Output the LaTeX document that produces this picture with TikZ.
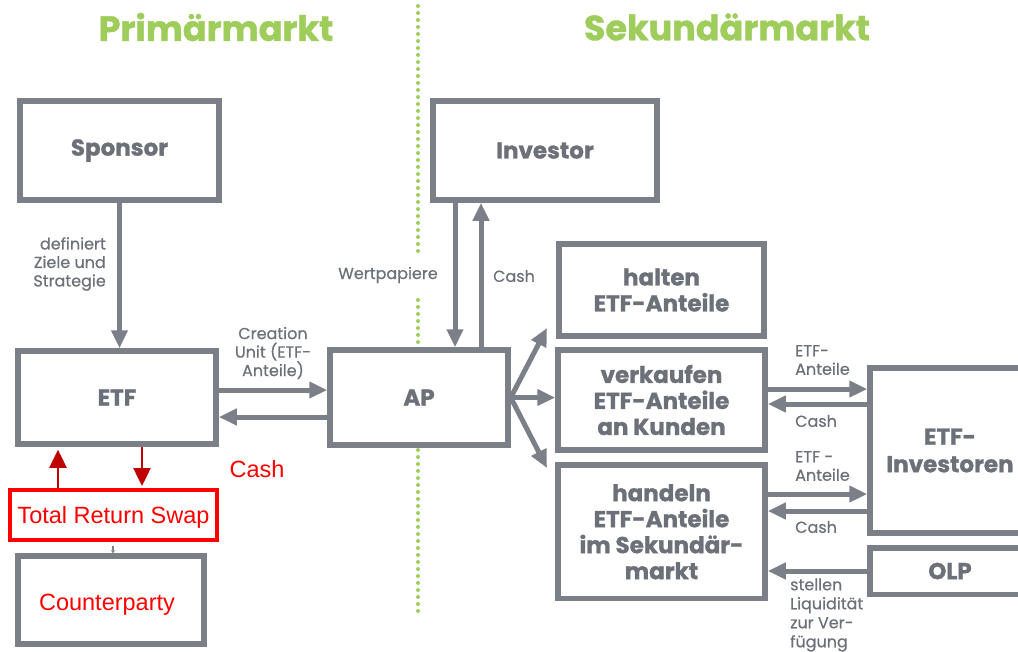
\documentclass[tikz,border=0pt]{standalone}
\usepackage{fontspec}
\setmainfont{Poppins}[BoldFeatures={FakeBold=1.2}]
\newfontfamily\lblf{Poppins}[FakeBold=0.6]
\newfontfamily\arialf{Liberation Sans}
\usetikzlibrary{arrows.meta}
\definecolor{lg}{HTML}{7B8088}
\definecolor{tg}{HTML}{6C7179}
\definecolor{gr}{HTML}{9FCD5C}
\definecolor{rr}{HTML}{FF0000}
\definecolor{dr}{HTML}{C00000}
\tikzset{
  box/.style={draw=lg, line width=5.5pt, fill=white, text=tg, align=center, inner sep=0pt,
    font=\fontsize{23}{26}\selectfont\bfseries},
  ga/.style={draw=lg, line width=5pt, -{Triangle[length=18pt,width=16pt]}},
  ra/.style={draw=dr, line width=2.5pt, -{Triangle[length=18pt,width=17pt]}},
  lbl/.style={text=tg, inner sep=0pt, font=\lblf\fontsize{16}{18.5}\selectfont},
  head/.style={text=gr, inner sep=0pt, font=\fontsize{35}{40}\selectfont\bfseries},
  redt/.style={text=rr, inner sep=0pt, font=\arialf\fontsize{23.5}{28}\selectfont},
  dots/.style={draw=gr, line width=4pt, line cap=round, dash pattern=on 0pt off 7pt}
}
\begin{document}
\begin{tikzpicture}[x=1pt,y=-1pt]
\useasboundingbox (0,0) rectangle (1018,651);
% dotted separator
\coordinate (d0) at (418,6);
\coordinate (d1) at (418,253);
\coordinate (d2) at (418,300);
\coordinate (d3) at (418,348);
\coordinate (d4) at (418,450);
\coordinate (d5) at (418,613);
\draw[dots] (d0) -- (d1);
\draw[dots] (d2) -- (d3);
\draw[dots] (d4) -- (d5);
% headings
\node[head] (h1) at (216,27) {Primärmarkt};
\node[head] (h2) at (727,27) {Sekundärmarkt};
% boxes
\node[box, minimum width=199pt, minimum height=99pt] (sp) at (119.5,150.5) {Sponsor};
\node[box, minimum width=198pt, minimum height=93pt] (etf) at (117,397.5) {ETF};
\node[draw=rr, line width=4pt, fill=white, minimum width=207pt, minimum height=50pt, inner sep=0pt, redt] (trs) at (113.5,515) {\raisebox{-2pt}[\height][\depth]{Total Return Swap}};
\node[box, minimum width=186pt, minimum height=88pt, redt] (cp) at (111,600) {\raisebox{-5pt}[\height][\depth]{Counterparty}\hspace*{8pt}};
\node[box, minimum width=178pt, minimum height=95pt] (ap) at (419,397.5) {AP};
\node[box, minimum width=224pt, minimum height=99pt] (inv) at (545,150.5) {Investor};
\node[box, minimum width=205pt, minimum height=92pt] (ha) at (661.5,290) {halten\\ETF-Anteile};
\node[box, minimum width=207pt, minimum height=100pt] (vk) at (661.5,400) {verkaufen\\ETF-Anteile\\an Kunden};
\node[box, minimum width=207pt, minimum height=133.5pt] (hd) at (661.5,531.75) {handeln\\ETF-Anteile\\im Sekundär-\\markt};
\node[box, minimum width=160pt, minimum height=165pt, font=\fontsize{23}{27.5}\selectfont\bfseries] (ei) at (950,450.5) {ETF-\\Investoren};
\node[box, minimum width=160pt, minimum height=46.5pt] (olp) at (950,571) {OLP};
% connectors
\draw[ga] (sp.south) -- (sp.south |- etf.north);
\draw[ga] ([yshift=7.5pt]etf.east) -- ([yshift=7.5pt]ap.west);
\draw[ga] ([yshift=-19.5pt]ap.west) -- ([yshift=-19.5pt]etf.east);
\draw[ga] ([xshift=-90pt]inv.south) -- ([xshift=-90pt]inv.south |- ap.north);
\draw[ga] ([xshift=-64pt]inv.south |- ap.north) -- ([xshift=-64pt]inv.south);
\coordinate (f1) at (547,328);
\coordinate (f3) at (547,468);
\draw[ga] (ap.east) -- (f1);
\draw[ga] (ap.east) -- (ap.east -| vk.west);
\draw[ga] (ap.east) -- (f3);
\draw[ga] ([yshift=11pt]vk.east) -- ([yshift=11pt]vk.east -| ei.west);
\draw[ga] ([yshift=-4pt]vk.east -| ei.west) -- ([yshift=-4pt]vk.east);
\draw[ga] ([yshift=37.75pt]hd.east) -- ([yshift=37.75pt]hd.east -| ei.west);
\draw[ga] ([yshift=20.75pt]hd.east -| ei.west) -- ([yshift=20.75pt]hd.east);
\draw[ga] (olp.west) -- (olp.west -| hd.east);
\draw[draw=lg, line width=1.5pt, -{Triangle[length=3pt,width=4pt]}] ([xshift=2pt,yshift=-4pt]cp.north |- trs.south) -- ([xshift=2pt]cp.north);
% red swap arrows
\draw[ra] ([xshift=-55.5pt]trs.north) -- ([xshift=-55.5pt,yshift=-3pt]trs.north |- etf.south);
\draw[ra] ([xshift=25pt]etf.south) -- ([xshift=25pt,yshift=2pt]etf.south |- trs.north);
\node[redt] (cash0) at (257,469) {Cash};
% labels
\node[lbl, align=right, anchor=east] (l1) at (106,264) {definiert\\Ziele und\\Strategie};
\node[lbl, align=center] (l2) at (273,353) {Creation\\Unit (ETF-\\Anteile)};
\node[lbl] (l3) at (388,275) {Wertpapiere};
\node[lbl] (l4) at (514,276) {Cash};
\node[lbl, align=left, anchor=west] (l5) at (795,360) {ETF-\\Anteile};
\node[lbl, anchor=west] (l6) at (795,421) {Cash};
\node[lbl, align=left, anchor=west] (l7) at (795,466) {ETF -\\Anteile};
\node[lbl, anchor=west] (l8) at (795,527) {Cash};
\node[lbl, align=left, anchor=west, font=\lblf\fontsize{16}{19}\selectfont] (l9) at (790,615) {stellen\\Liquidität\\zur Ver-\\fügung};
\end{tikzpicture}
\end{document}
